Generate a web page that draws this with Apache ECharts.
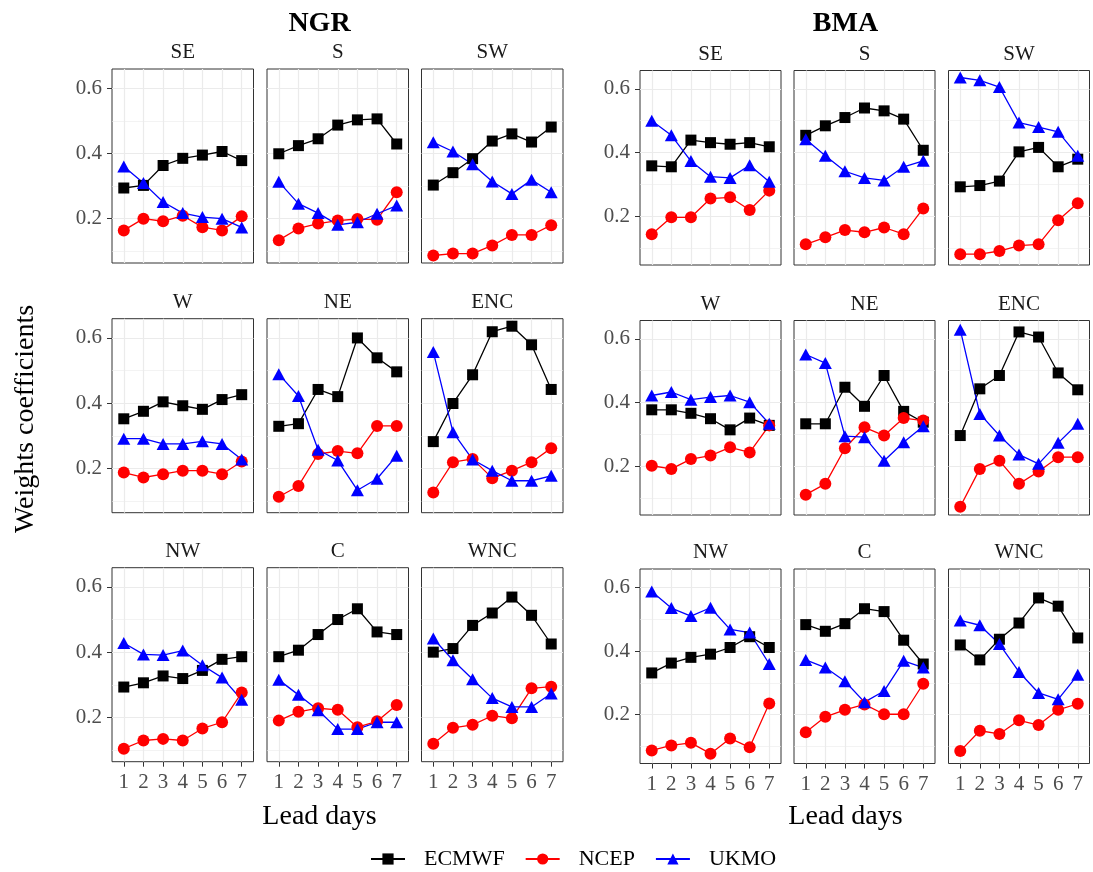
<!DOCTYPE html>
<html><head><meta charset="utf-8">
<script src="https://cdn.jsdelivr.net/npm/echarts@6/dist/echarts.min.js"></script>
<style>html,body{margin:0;padding:0;background:#fff}#c{width:1093px;height:872px}</style>
</head><body><div id="c"></div>
<script>
// ---------- data ----------
const methods = ['NGR', 'BMA'];
const regions = ['SE', 'S', 'SW', 'W', 'NE', 'ENC', 'NW', 'C', 'WNC'];
const leadDays = [1, 2, 3, 4, 5, 6, 7];
const models = ['ECMWF', 'NCEP', 'UKMO'];
const yTickValues = [0.2, 0.4, 0.6];
const yMinorValues = [0.1, 0.3, 0.5];

// rows follow `regions`, columns follow `leadDays`
const ngrECMWF = [
  [0.294, 0.302, 0.363, 0.385, 0.395, 0.406, 0.378],
  [0.399, 0.424, 0.445, 0.487, 0.503, 0.506, 0.429],
  [0.303, 0.341, 0.384, 0.438, 0.460, 0.435, 0.481],
  [0.352, 0.375, 0.404, 0.392, 0.381, 0.411, 0.426],
  [0.329, 0.337, 0.442, 0.420, 0.600, 0.539, 0.496],
  [0.282, 0.399, 0.487, 0.619, 0.636, 0.579, 0.442],
  [0.293, 0.306, 0.327, 0.319, 0.344, 0.378, 0.386],
  [0.386, 0.406, 0.454, 0.500, 0.533, 0.462, 0.454],
  [0.400, 0.411, 0.482, 0.520, 0.569, 0.513, 0.425]
];
const ngrNCEP = [
  [0.164, 0.200, 0.192, 0.209, 0.174, 0.164, 0.207],
  [0.134, 0.170, 0.185, 0.194, 0.199, 0.197, 0.281],
  [0.087, 0.093, 0.093, 0.118, 0.150, 0.150, 0.180],
  [0.187, 0.172, 0.182, 0.193, 0.193, 0.182, 0.221],
  [0.113, 0.146, 0.244, 0.253, 0.246, 0.330, 0.330],
  [0.126, 0.219, 0.229, 0.170, 0.193, 0.219, 0.262],
  [0.104, 0.129, 0.134, 0.129, 0.166, 0.185, 0.276],
  [0.190, 0.217, 0.228, 0.223, 0.170, 0.188, 0.238],
  [0.119, 0.168, 0.177, 0.205, 0.197, 0.289, 0.294]
];
const ngrUKMO = [
  [0.360, 0.309, 0.251, 0.217, 0.205, 0.200, 0.173],
  [0.313, 0.246, 0.217, 0.181, 0.189, 0.215, 0.240],
  [0.434, 0.406, 0.367, 0.314, 0.276, 0.319, 0.281],
  [0.291, 0.291, 0.275, 0.275, 0.283, 0.275, 0.227],
  [0.489, 0.422, 0.257, 0.224, 0.133, 0.168, 0.239],
  [0.557, 0.311, 0.227, 0.193, 0.162, 0.162, 0.177],
  [0.428, 0.393, 0.391, 0.405, 0.360, 0.322, 0.254],
  [0.315, 0.269, 0.222, 0.164, 0.164, 0.185, 0.185],
  [0.442, 0.375, 0.317, 0.259, 0.232, 0.232, 0.273]
];
const bmaECMWF = [
  [0.358, 0.355, 0.439, 0.431, 0.426, 0.431, 0.418],
  [0.454, 0.484, 0.510, 0.540, 0.531, 0.505, 0.407],
  [0.292, 0.296, 0.310, 0.402, 0.416, 0.355, 0.379],
  [0.377, 0.377, 0.366, 0.349, 0.314, 0.351, 0.328],
  [0.333, 0.333, 0.448, 0.388, 0.485, 0.372, 0.338],
  [0.296, 0.443, 0.485, 0.622, 0.606, 0.493, 0.440],
  [0.331, 0.362, 0.380, 0.390, 0.411, 0.445, 0.411],
  [0.483, 0.462, 0.486, 0.533, 0.524, 0.434, 0.359],
  [0.419, 0.372, 0.437, 0.488, 0.567, 0.541, 0.441]
];
const bmaNCEP = [
  [0.143, 0.196, 0.196, 0.255, 0.259, 0.219, 0.280],
  [0.111, 0.133, 0.156, 0.149, 0.164, 0.143, 0.224],
  [0.080, 0.080, 0.090, 0.107, 0.111, 0.187, 0.240],
  [0.201, 0.191, 0.222, 0.233, 0.259, 0.243, 0.328],
  [0.110, 0.144, 0.256, 0.322, 0.296, 0.351, 0.343],
  [0.072, 0.191, 0.217, 0.144, 0.183, 0.228, 0.228],
  [0.087, 0.103, 0.111, 0.077, 0.125, 0.097, 0.235],
  [0.144, 0.193, 0.215, 0.232, 0.201, 0.201, 0.297],
  [0.085, 0.149, 0.139, 0.182, 0.167, 0.215, 0.234]
];
const bmaUKMO = [
  [0.500, 0.454, 0.373, 0.324, 0.320, 0.360, 0.308],
  [0.442, 0.390, 0.341, 0.320, 0.312, 0.355, 0.374],
  [0.636, 0.627, 0.606, 0.494, 0.480, 0.465, 0.390],
  [0.422, 0.433, 0.409, 0.417, 0.422, 0.401, 0.333],
  [0.551, 0.524, 0.294, 0.291, 0.217, 0.275, 0.325],
  [0.629, 0.364, 0.296, 0.236, 0.207, 0.273, 0.333],
  [0.587, 0.535, 0.510, 0.536, 0.468, 0.458, 0.359],
  [0.372, 0.348, 0.305, 0.239, 0.274, 0.369, 0.348],
  [0.496, 0.481, 0.422, 0.334, 0.268, 0.248, 0.325]
];
const methodData = {
  NGR: { ECMWF: ngrECMWF, NCEP: ngrNCEP, UKMO: ngrUKMO },
  BMA: { ECMWF: bmaECMWF, NCEP: bmaNCEP, UKMO: bmaUKMO }
};

// ---------- layout & style ----------
const FONT = '"Liberation Serif","Times New Roman",serif';
const layout = {
  NGR: { lefts: [112, 267, 421.5], tops: [69, 318.7, 567.7], w: 141.5, h: 194, yMin: 0.064, yMax: 0.659, titleX: 319.5 },
  BMA: { lefts: [640, 794, 948.5], tops: [70.5, 320.5, 569], w: 141, h: 194.5, yMin: 0.046, yMax: 0.658, titleX: 845.5 }
};
const modelStyle = {
  ECMWF: { color: '#000000', symbol: 'rect', size: 11 },
  NCEP: { color: '#ff0000', symbol: 'circle', size: 12 },
  UKMO: { color: '#0000ff', symbol: 'triangle', size: [13, 12] }
};

const grids = [], xAxes = [], yAxes = [], series = [], graphics = [];
let gi = 0;
methods.forEach(method => {
  const L = layout[method];
  graphics.push({ type: 'text', x: L.titleX, y: 24, style: { text: method, font: 'bold 28px ' + FONT, fill: '#000', textAlign: 'center', textVerticalAlign: 'middle' } });
  graphics.push({ type: 'text', x: L.titleX, y: 817, style: { text: 'Lead days', font: '28px ' + FONT, fill: '#000', textAlign: 'center', textVerticalAlign: 'middle' } });
  regions.forEach((reg, r) => {
    const row = Math.floor(r / 3), col = r % 3;
    const left = L.lefts[col], top = L.tops[row];
    grids.push({ left: left, top: top, width: L.w, height: L.h, show: true, backgroundColor: '#fff', borderColor: '#333333', borderWidth: 1, containLabel: false, outerBoundsMode: 'none' });
    graphics.push({ type: 'text', x: left + L.w / 2, y: top - 16.5, style: { text: reg, font: '21px ' + FONT, fill: '#1a1a1a', textAlign: 'center', textVerticalAlign: 'middle' } });
    xAxes.push({
      gridIndex: gi, type: 'value', min: 0.4, max: 7.6,
      axisLine: { show: false },
      axisTick: { show: row === 2, length: 5, customValues: leadDays, lineStyle: { color: '#333333', width: 1 } },
      axisLabel: { show: row === 2, customValues: leadDays, color: '#4d4d4d', fontSize: 21, fontFamily: FONT, margin: 10 },
      splitLine: { show: true, lineStyle: { color: '#ebebeb', width: 1.2 } }
    });
    yAxes.push({
      gridIndex: gi, type: 'value', min: L.yMin, max: L.yMax, position: 'left',
      axisLine: { show: false },
      axisTick: { show: col === 0, length: 5, customValues: yTickValues, lineStyle: { color: '#333333', width: 1 } },
      axisLabel: { show: col === 0, customValues: yTickValues, formatter: v => v.toFixed(1), color: '#4d4d4d', fontSize: 21, fontFamily: FONT, margin: 10 },
      splitLine: { show: true, lineStyle: { color: '#ebebeb', width: 1.2 } }
    });
    yAxes.push({
      gridIndex: gi, type: 'value', min: L.yMin, max: L.yMax, position: 'left',
      axisLine: { show: false },
      axisTick: { show: false, customValues: yMinorValues },
      axisLabel: { show: false, customValues: yMinorValues },
      splitLine: { show: true, lineStyle: { color: '#ebebeb', width: 0.6 } }
    });
    models.forEach(m => {
      const st = modelStyle[m];
      const vals = methodData[method][m][r];
      series.push({
        name: m, type: 'line', xAxisIndex: gi, yAxisIndex: gi * 2,
        data: leadDays.map((d, k) => [d, vals[k]]),
        symbol: st.symbol, symbolSize: st.size, showSymbol: true,
        lineStyle: { color: st.color, width: 1.3 },
        itemStyle: { color: st.color, borderWidth: 0 },
        emphasis: { disabled: true }, silent: true, clip: false
      });
    });
    gi++;
  });
});
graphics.push({ type: 'text', x: 26, y: 419, rotation: Math.PI / 2, style: { text: 'Weights coefficients', font: '28px ' + FONT, fill: '#000', textAlign: 'center', textVerticalAlign: 'middle' } });

const chart = echarts.init(document.getElementById('c'), null, { renderer: 'canvas' });
chart.setOption({
  animation: false,
  backgroundColor: '#ffffff',
  grid: grids, xAxis: xAxes, yAxis: yAxes, series: series,
  legend: {
    left: 365, top: 843, itemWidth: 34, itemHeight: 14, itemGap: 20,
    data: models, selectedMode: false,
    textStyle: { fontFamily: FONT, fontSize: 22, color: '#000', padding: [0, 0, 0, 14] }
  },
  graphic: graphics
});
</script></body></html>
